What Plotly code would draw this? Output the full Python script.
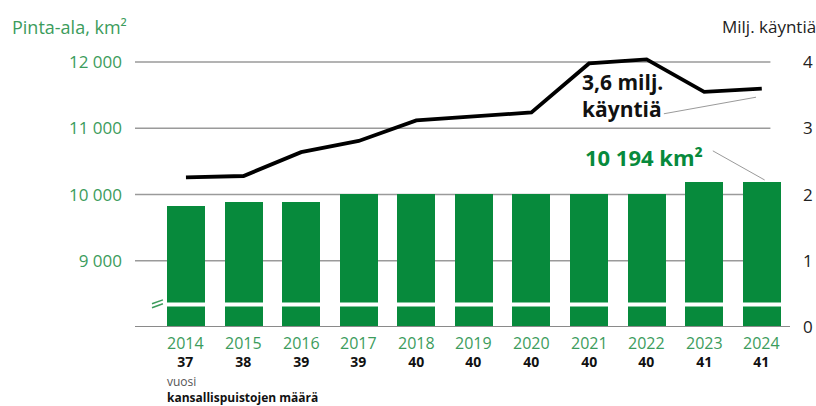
import plotly.graph_objects as go

# data
years = ['2014', '2015', '2016', '2017', '2018', '2019', '2020', '2021', '2022', '2023', '2024']
area_km2 = [9820, 9885, 9890, 10005, 10010, 10015, 10015, 10015, 10015, 10190, 10194]
visits_m = [2.26, 2.28, 2.64, 2.81, 3.12, 3.18, 3.24, 3.98, 4.04, 3.55, 3.60]
park_count = ['37', '38', '39', '39', '40', '40', '40', '40', '40', '41', '41']
left_ticks = [9000, 10000, 11000, 12000]
left_ticktext = ['9 000', '10 000', '11 000', '12 000']
right_ticks = [0, 1, 2, 3, 4]

GREEN = '#078a3c'
LGREEN = '#3c9c5c'
FONT = 'Open Sans'

xs = list(range(len(years)))

fig = go.Figure()

fig.add_trace(go.Bar(
  x = xs,
  y = [a - 8000 for a in area_km2],
  base = 8000,
  width = 0.66,
  marker = dict(color = GREEN, line = dict(width = 0)),
  hoverinfo = 'skip',
))

fig.add_trace(go.Scatter(
  x = xs,
  y = visits_m,
  yaxis = 'y2',
  mode = 'lines',
  line = dict(color = 'black', width = 3.8),
  hoverinfo = 'skip',
))

shapes = []
# gridlines
for v in left_ticks:
  shapes.append(dict(type = 'line', xref = 'x', yref = 'y', x0 = -0.885, x1 = 10.15, y0 = v, y1 = v,
                     line = dict(color = '#9a9a9a', width = 1.5), layer = 'below'))
# baseline
shapes.append(dict(type = 'line', xref = 'x', yref = 'y', x0 = -0.885, x1 = 10.55, y0 = 8000, y1 = 8000,
                   line = dict(color = '#8a8a8a', width = 2), layer = 'above'))
# axis break gap
shapes.append(dict(type = 'rect', xref = 'x', yref = 'y', x0 = -0.36, x1 = 10.36, y0 = 8310, y1 = 8370,
                   fillcolor = 'white', line = dict(width = 0), layer = 'above'))
# break mark //
for dy in (0, 60):
  shapes.append(dict(type = 'line', xref = 'x', yref = 'y', x0 = -0.59, x1 = -0.40, y0 = 8290 + dy, y1 = 8350 + dy,
                     line = dict(color = LGREEN, width = 1.5)))
# leader lines
shapes.append(dict(type = 'line', xref = 'x', yref = 'y2', x0 = 8.3, x1 = 9.9, y0 = 3.22, y1 = 3.47,
                   line = dict(color = '#9a9a9a', width = 1)))
shapes.append(dict(type = 'line', xref = 'x', yref = 'y', x0 = 9.15, x1 = 10.05, y0 = 10660, y1 = 10220,
                   line = dict(color = '#9a9a9a', width = 1)))

def py(px):
  return (327 - px) / 298

def pxx(px):
  return (px - 135) / 655

annotations = []
for i, (yr, c) in enumerate(zip(years, park_count)):
  annotations.append(dict(
    x = i, y = py(330), xref = 'x', yref = 'paper', yanchor = 'top', showarrow = False,
    text = '<span style="font-size:16px;font-weight:normal;fill:' + LGREEN + '">' + yr + '</span><br><b>' + c + '</b>',
    font = dict(family = FONT, size = 14, color = '#111'),
  ))

annotations += [
  dict(x = pxx(165), y = py(381), xref = 'paper', yref = 'paper', text = 'vuosi', showarrow = False,
       xanchor = 'left', yanchor = 'middle', font = dict(family = FONT, size = 12, color = '#555')),
  dict(x = pxx(165), y = py(397), xref = 'paper', yref = 'paper', text = '<b>kansallispuistojen määrä</b>', showarrow = False,
       xanchor = 'left', yanchor = 'middle', font = dict(family = FONT, size = 12, color = '#111')),
  dict(x = pxx(10), y = py(27), xref = 'paper', yref = 'paper', text = 'Pinta-ala, km²', showarrow = False,
       xanchor = 'left', yanchor = 'middle', font = dict(family = FONT, size = 18, color = LGREEN)),
  dict(x = pxx(818), y = py(27), xref = 'paper', yref = 'paper', text = 'Milj. käyntiä', showarrow = False,
       xanchor = 'right', yanchor = 'middle', font = dict(family = FONT, size = 17, color = '#222')),
  dict(x = 6.85, y = 3.5, xref = 'x', yref = 'y2', text = '<b>3,6 milj.<br>käyntiä</b>', showarrow = False,
       xanchor = 'left', yanchor = 'middle', align = 'left',
       font = dict(family = FONT, size = 21, color = '#111')),
  dict(x = 6.9, y = 10560, xref = 'x', yref = 'y', text = '<b>10 194 km²</b>', showarrow = False,
       xanchor = 'left', yanchor = 'middle', font = dict(family = FONT, size = 22, color = GREEN)),
]

fig.update_layout(
  width = 816,
  height = 406,
  margin = dict(l = 135, r = 26, t = 29, b = 79, autoexpand = False),
  paper_bgcolor = 'white',
  plot_bgcolor = 'white',
  showlegend = False,
  bargap = 0,
  xaxis = dict(
    range = [-0.885, 10.49],
    showticklabels = False,
    showgrid = False,
    zeroline = False,
    ticks = '',
    automargin = False,
  ),
  yaxis = dict(
    range = [8000, 12500],
    tickvals = left_ticks,
    ticktext = left_ticktext,
    showgrid = False,
    zeroline = False,
    ticks = '',
    automargin = False,
    ticklabelstandoff = 12,
    tickfont = dict(family = FONT, size = 17, color = LGREEN),
  ),
  yaxis2 = dict(
    range = [0, 4.5],
    overlaying = 'y',
    side = 'right',
    tickvals = right_ticks,
    showgrid = False,
    zeroline = False,
    ticks = '',
    automargin = False,
    ticklabelstandoff = 12,
    tickfont = dict(family = FONT, size = 17, color = '#222'),
  ),
  shapes = shapes,
  annotations = annotations,
)

fig.write_html('out.html', config = dict(displayModeBar = False),
               post_script = "document.body.style.margin = '0';")
